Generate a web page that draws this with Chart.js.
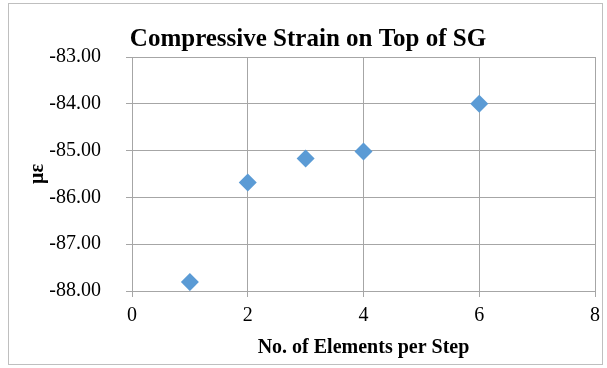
<!DOCTYPE html>
<html>
<head>
<meta charset="utf-8">
<script src="https://cdn.jsdelivr.net/npm/chart.js@4/dist/chart.umd.min.js"></script>
<style>
  body { margin: 0; background: #fff; }
  #wrap { width: 607px; height: 368px; }
</style>
</head>
<body>
<div id="wrap"><canvas id="strainChart" width="607" height="368"></canvas></div>
<script>
// elements per step vs. strain (με)
const elementsPerStep = [1, 2, 3, 4, 6];
const strainValues = [-87.81, -85.68, -85.17, -85.02, -84.00];
const xTicks = [0, 2, 4, 6, 8];
const yTicks = [-88, -87, -86, -85, -84, -83];

const points = elementsPerStep.map((x, i) => ({ x: x, y: strainValues[i] }));

const serif = "'Liberation Serif', 'Times New Roman', serif";
const gridColor = '#a6a6a6';

// outer frame like the excel chart border
const framePlugin = {
  id: 'frame',
  afterDraw(chart) {
    const ctx = chart.ctx;
    ctx.save();
    ctx.strokeStyle = '#bfbfbf';
    ctx.lineWidth = 1;
    ctx.strokeRect(8.5, 3.5, 594, 361);
    ctx.restore();
  }
};

const ctx = document.getElementById('strainChart').getContext('2d');
const strainChart = new Chart(ctx, {
  type: 'scatter',
  data: {
    datasets: [{
      label: 'Strain',
      data: points,
      showLine: false,
      pointStyle: 'rectRot',
      pointRadius: 9,
      pointHoverRadius: 9,
      backgroundColor: '#5b9bd5',
      borderColor: '#5b9bd5',
      borderWidth: 0
    }]
  },
  options: {
    responsive: false,
    animation: false,
    events: [],
    layout: { padding: { left: 20, right: 11, top: 25, bottom: 8 } },
    plugins: {
      legend: { display: false },
      tooltip: { enabled: false },
      title: {
        display: true,
        text: 'Compressive Strain on Top of SG',
        color: '#000',
        font: { family: serif, size: 25, weight: 'bold' },
        padding: { top: 0, bottom: 2 }
      }
    },
    scales: {
      x: {
        type: 'linear',
        min: 0,
        max: 8,
        afterBuildTicks: axis => { axis.ticks = xTicks.map(v => ({ value: v })); },
        ticks: {
          color: '#000',
          font: { family: serif, size: 20 },
          padding: 7
        },
        grid: { color: gridColor, tickLength: 6, tickColor: gridColor },
        border: { color: gridColor },
        title: {
          display: true,
          text: 'No. of Elements per Step',
          color: '#000',
          font: { family: serif, size: 20, weight: 'bold' },
          padding: { top: 8, bottom: 0 }
        },
        afterFit: axis => { axis.height = 69; }
      },
      y: {
        type: 'linear',
        min: -88,
        max: -83,
        afterBuildTicks: axis => { axis.ticks = yTicks.map(v => ({ value: v })); },
        ticks: {
          color: '#000',
          font: { family: serif, size: 20 },
          padding: 25,
          callback: v => v.toFixed(2)
        },
        grid: { color: gridColor, tickLength: 6, tickColor: gridColor },
        border: { color: gridColor },
        title: {
          display: true,
          text: 'με',
          color: '#000',
          font: { family: serif, size: 20, weight: 'bold' },
          padding: { top: 6, bottom: 0 }
        },
        afterFit: axis => { axis.width = 112; }
      }
    }
  },
  plugins: [framePlugin]
});
</script>
</body>
</html>
